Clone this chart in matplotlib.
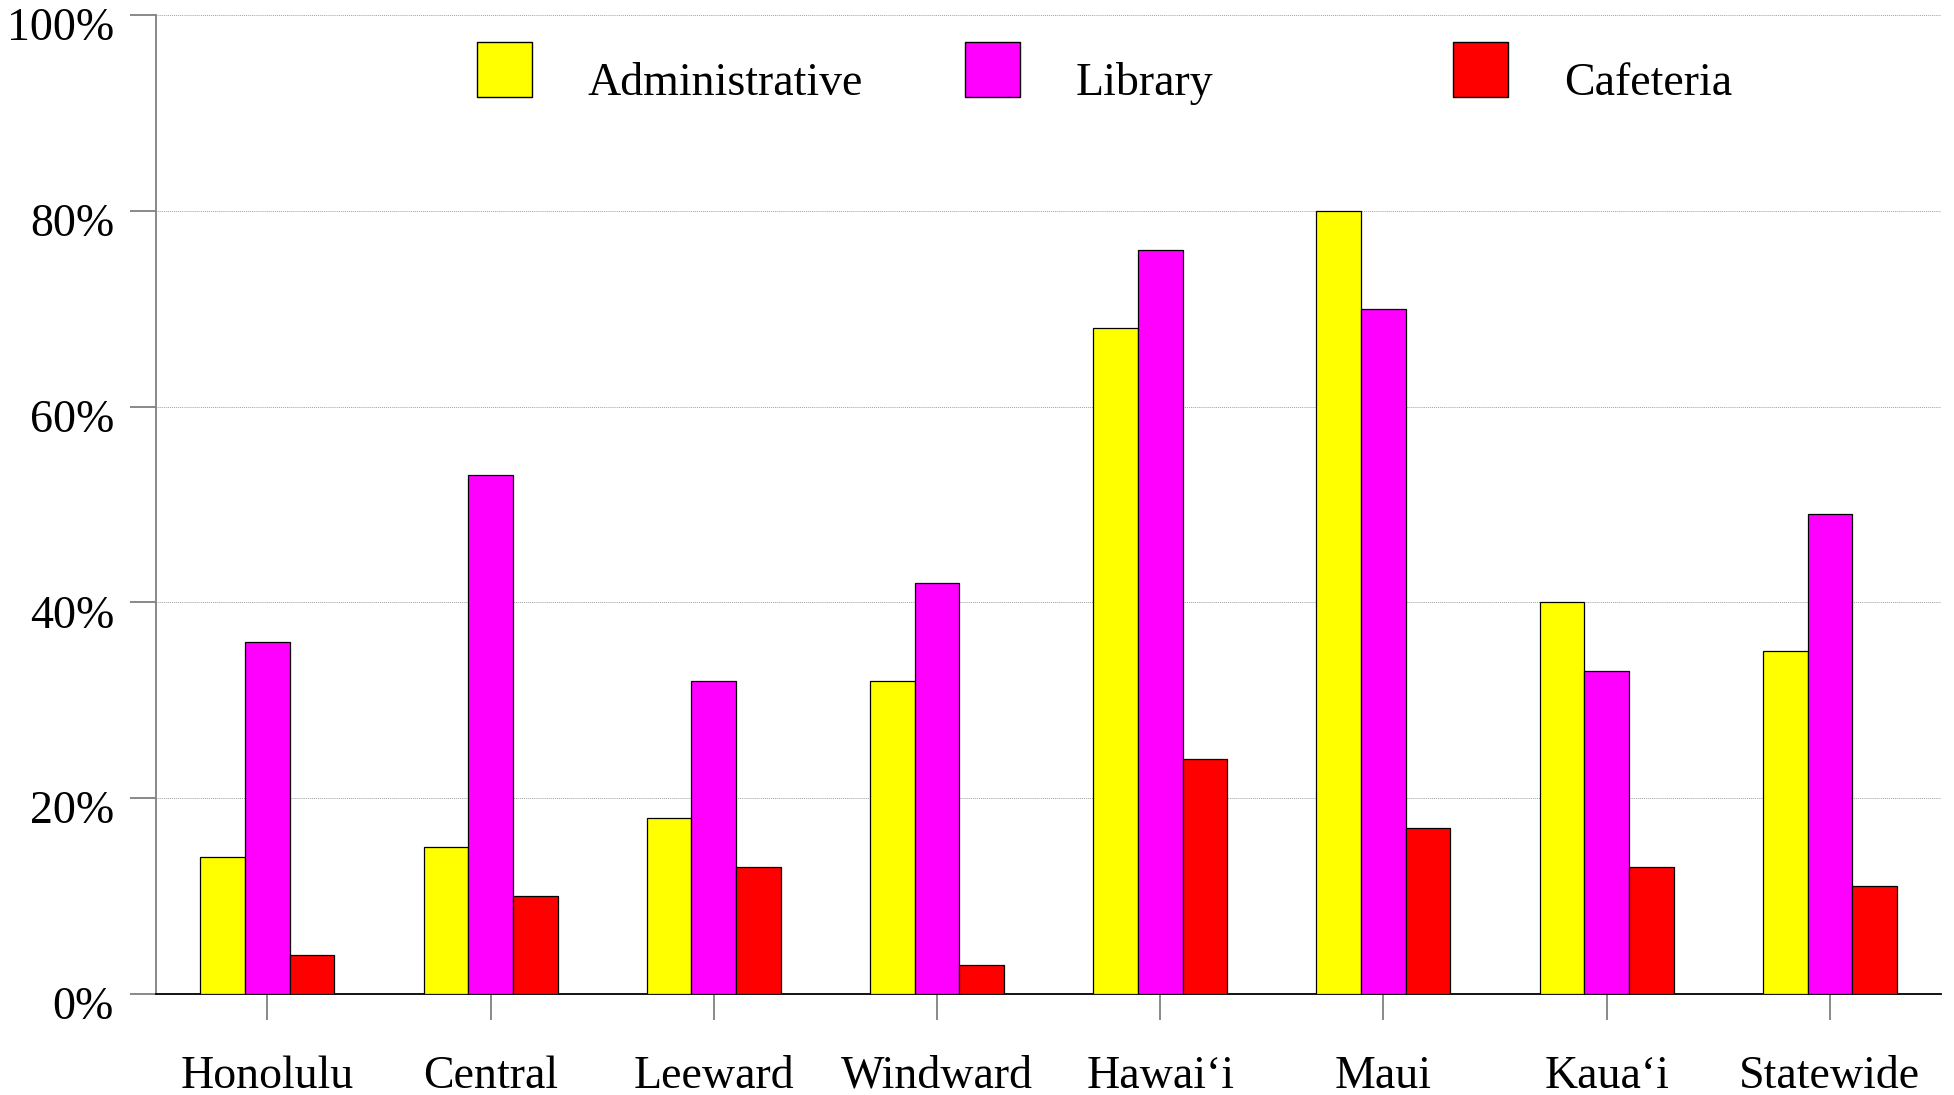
import matplotlib
matplotlib.use("Agg")
import matplotlib.pyplot as plt
from matplotlib.patches import Rectangle
from matplotlib.transforms import ScaledTranslation
import numpy as np

categories = ["Honolulu", "Central", "Leeward", "Windward", "Hawai\u2018i", "Maui", "Kaua\u2018i", "Statewide"]
series_names = ["Administrative", "Library", "Cafeteria"]
administrative = [14, 15, 18, 32, 68, 80, 40, 35]
library = [36, 53, 32, 42, 76, 70, 33, 49]
cafeteria = [4, 10, 13, 3, 24, 17, 13, 11]
colors = ["#FFFF00", "#FF00FF", "#FF0000"]
yticks = [0, 20, 40, 60, 80, 100]
ytick_labels = ["0%", "20%", "40%", "60%", "80%", "100%"]

plt.rcParams['font.family'] = ['Liberation Serif', 'DejaVu Serif']
FS = 33

fig = plt.figure(figsize=(19.54, 10.95), dpi=100)
ax = fig.add_axes([0.0797, 0.0922, 0.9139, 0.8941])

x = np.arange(len(categories))
w = 0.2
for i, vals in enumerate([administrative, library, cafeteria]):
    ax.bar(x + (i - 1) * w, vals, width=w, color=colors[i], edgecolor="black",
           linewidth=0.9, zorder=3)

ax.set_xlim(-0.5, len(categories) - 0.5)
ax.set_ylim(0, 100)
ax.set_yticks(yticks)
ax.set_yticklabels(ytick_labels, fontsize=FS)
ax.set_xticks(x)
ax.set_xticklabels(categories, fontsize=FS)

ax.grid(axis="y", color="#a0a0a0", linestyle=(0, (1, 1)), linewidth=0.7, zorder=0)
for s in ["top", "right"]:
    ax.spines[s].set_visible(False)
ax.spines["left"].set_color("#808080")
ax.spines["left"].set_linewidth(1.3)
ax.spines["bottom"].set_color("black")
ax.spines["bottom"].set_linewidth(1.3)
ax.tick_params(axis="y", length=19, width=1.3, color="#808080", pad=11, direction="out")
ax.tick_params(axis="x", length=19, width=1.3, color="#808080", pad=25, direction="out")

shift = ScaledTranslation(0, -9 / 100, fig.dpi_scale_trans)
for lab in ax.get_yticklabels():
    lab.set_transform(lab.get_transform() + shift)

# legend drawn manually with evenly spaced entries
W, H = 1954, 1095
px0 = 477
step = 488
for i, name in enumerate(series_names):
    left = px0 + i * step
    fig.patches.append(Rectangle((left / W, 1 - 97 / H), 55 / W, 55 / H,
                                 transform=fig.transFigure, facecolor=colors[i],
                                 edgecolor="black", linewidth=1.0))
    fig.text((left + 111) / W, 1 - 95 / H, name, fontsize=FS, va="baseline", ha="left")

fig.savefig("out.png", dpi=100)
